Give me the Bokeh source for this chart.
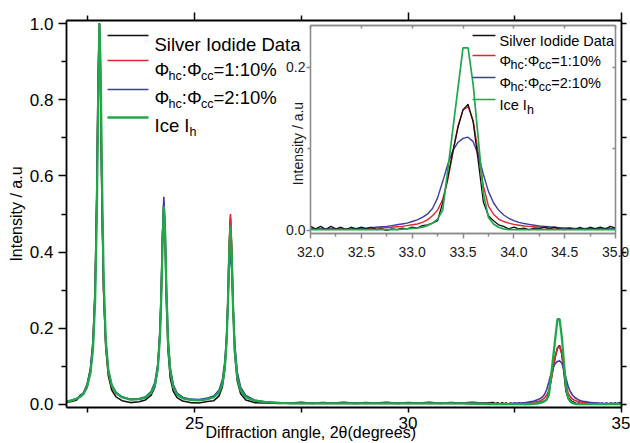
from bokeh.plotting import figure
from bokeh.models import Range1d, LinearAxis, FixedTicker, NumeralTickFormatter, Label, Arrow, Title
from bokeh.layouts import column
from bokeh.embed import file_html
from bokeh.resources import INLINE

FONT = "Liberation Sans"

# ---------------- data ----------------
two_theta = [
    22.00, 22.12, 22.24, 22.32, 22.40, 22.48, 22.56, 22.62, 22.67, 22.71, 22.74, 22.77,
    22.80, 22.83, 22.87, 22.92, 22.98, 23.06, 23.16, 23.30, 23.50, 23.70,
    23.85, 23.98, 24.07, 24.14, 24.19, 24.22, 24.25, 24.28, 24.31, 24.34, 24.38, 24.43,
    24.50, 24.59, 24.72, 24.90, 25.10, 25.30,
    25.45, 25.57, 25.65, 25.71, 25.75, 25.78, 25.81, 25.84, 25.87, 25.90, 25.94, 26.00,
    26.08, 26.20, 26.40, 26.65, 27.00,
    27.25, 27.50, 27.75, 28.00, 28.25, 28.50, 28.75, 29.00, 29.25, 29.50, 29.75, 30.00,
    30.25, 30.50, 30.75, 31.00, 31.25, 31.50, 31.75,
    32.00, 32.05, 32.10, 32.15, 32.20, 32.25, 32.30, 32.35, 32.40, 32.45,
    32.50, 32.55, 32.60, 32.65, 32.70, 32.75, 32.80, 32.85, 32.90, 32.95,
    33.00, 33.05, 33.10, 33.15, 33.20, 33.25, 33.30, 33.35, 33.40, 33.45,
    33.50, 33.55, 33.60, 33.65, 33.70, 33.75, 33.80, 33.85, 33.90, 33.95,
    34.00, 34.05, 34.10, 34.15, 34.20, 34.25, 34.30, 34.35, 34.40, 34.45,
    34.50, 34.55, 34.60, 34.65, 34.70, 34.75, 34.80, 34.85, 34.90, 34.95,
    35.00,
]

silver_iodide = [
    0.006, 0.008, 0.012, 0.024, 0.028, 0.045, 0.085, 0.15, 0.29, 0.54, 0.82, 1.00,
    0.83, 0.55, 0.30, 0.15, 0.075, 0.038, 0.020, 0.010, 0.005, 0.007,
    0.012, 0.024, 0.046, 0.095, 0.19, 0.30, 0.45, 0.53, 0.43, 0.27, 0.14, 0.070,
    0.035, 0.018, 0.009, 0.005, 0.004, 0.008,
    0.010, 0.022, 0.046, 0.095, 0.17, 0.27, 0.41, 0.49, 0.40, 0.26, 0.135, 0.062,
    0.028, 0.012, 0.005, 0.004, 0.003,
    0.004, 0.006, 0.003, 0.005, 0.004, 0.006, 0.003, 0.005, 0.004, 0.006, 0.003, 0.005,
    0.004, 0.006, 0.003, 0.005, 0.004, 0.006, 0.004,
    0.005, 0.002, 0.005, 0.001, 0.005, 0.002, 0.004, 0.001, 0.004, 0.002,
    0.004, 0.002, 0.004, 0.001, 0.002, 0.000, 0.002, 0.001, 0.003, 0.002,
    0.004, 0.003, 0.006, 0.007, 0.009, 0.012, 0.034, 0.065, 0.097, 0.126,
    0.148, 0.155, 0.133, 0.085, 0.035, 0.018, 0.012, 0.007, 0.005, 0.002,
    0.004, 0.002, 0.003, 0.001, 0.003, 0.002, 0.004, 0.002, 0.004, 0.002,
    0.001, 0.003, 0.001, 0.004, 0.001, 0.004, 0.002, 0.004, 0.002, 0.005,
    0.003,
]

phi_1_10 = [
    0.008, 0.011, 0.016, 0.021, 0.030, 0.050, 0.092, 0.165, 0.31, 0.57, 0.86, 1.00,
    0.80, 0.52, 0.29, 0.155, 0.085, 0.048, 0.030, 0.019, 0.013, 0.014,
    0.018, 0.030, 0.052, 0.100, 0.19, 0.29, 0.44, 0.53, 0.44, 0.29, 0.16, 0.088,
    0.046, 0.027, 0.017, 0.013, 0.011, 0.014,
    0.020, 0.032, 0.056, 0.104, 0.175, 0.275, 0.415, 0.50, 0.415, 0.273, 0.152, 0.075,
    0.038, 0.020, 0.010, 0.006, 0.004,
    0.003, 0.003, 0.003, 0.003, 0.003, 0.003, 0.003, 0.003, 0.003, 0.003, 0.003, 0.003,
    0.003, 0.003, 0.003, 0.003, 0.003, 0.003, 0.003,
    0.002, 0.002, 0.002, 0.002, 0.002, 0.002, 0.002, 0.002, 0.002, 0.002,
    0.002, 0.002, 0.0025, 0.003, 0.003, 0.0035, 0.004, 0.0045, 0.005, 0.006,
    0.007, 0.008, 0.010, 0.013, 0.018, 0.025, 0.038, 0.062, 0.095, 0.128,
    0.148, 0.152, 0.135, 0.095, 0.055, 0.030, 0.020, 0.014, 0.011, 0.009,
    0.0075, 0.0065, 0.0055, 0.005, 0.0045, 0.004, 0.0035, 0.003, 0.003, 0.0025,
    0.0025, 0.002, 0.002, 0.002, 0.002, 0.002, 0.002, 0.002, 0.002, 0.002,
    0.002,
]

phi_2_10 = [
    0.008, 0.011, 0.016, 0.022, 0.031, 0.052, 0.094, 0.165, 0.30, 0.55, 0.84, 1.00,
    0.82, 0.54, 0.30, 0.162, 0.090, 0.052, 0.032, 0.020, 0.014, 0.015,
    0.020, 0.034, 0.058, 0.108, 0.20, 0.30, 0.45, 0.545, 0.46, 0.31, 0.175, 0.097,
    0.052, 0.030, 0.019, 0.014, 0.013, 0.017,
    0.022, 0.037, 0.064, 0.114, 0.18, 0.26, 0.355, 0.40, 0.355, 0.26, 0.16, 0.085,
    0.045, 0.024, 0.012, 0.007, 0.004,
    0.0035, 0.0035, 0.0035, 0.0035, 0.0035, 0.0035, 0.0035, 0.0035, 0.0035, 0.0035,
    0.0035, 0.0035, 0.0035, 0.0035, 0.0035, 0.0035, 0.0035, 0.0035, 0.0035,
    0.002, 0.002, 0.002, 0.002, 0.002, 0.002, 0.002, 0.002, 0.002, 0.0025,
    0.0028, 0.003, 0.0035, 0.004, 0.0045, 0.005, 0.006, 0.007, 0.008, 0.009,
    0.011, 0.013, 0.016, 0.020, 0.027, 0.040, 0.060, 0.081, 0.098, 0.108,
    0.113, 0.1145, 0.109, 0.093, 0.069, 0.048, 0.034, 0.025, 0.019, 0.015,
    0.012, 0.010, 0.0085, 0.0075, 0.0065, 0.0055, 0.005, 0.0045, 0.004, 0.0035,
    0.003, 0.003, 0.0025, 0.0025, 0.0025, 0.0025, 0.0025, 0.0025, 0.0025, 0.0025,
    0.0025,
]

ice_ih = [
    0.008, 0.010, 0.015, 0.020, 0.028, 0.046, 0.083, 0.145, 0.27, 0.50, 0.78, 1.00,
    0.88, 0.60, 0.33, 0.17, 0.090, 0.050, 0.030, 0.019, 0.013, 0.014,
    0.018, 0.030, 0.050, 0.095, 0.18, 0.28, 0.42, 0.52, 0.45, 0.30, 0.16, 0.088,
    0.046, 0.026, 0.016, 0.012, 0.011, 0.014,
    0.019, 0.031, 0.053, 0.098, 0.165, 0.26, 0.39, 0.47, 0.39, 0.26, 0.143, 0.071,
    0.036, 0.019, 0.010, 0.006, 0.004,
    0.003, 0.003, 0.003, 0.003, 0.003, 0.003, 0.003, 0.003, 0.003, 0.003, 0.003, 0.003,
    0.003, 0.003, 0.003, 0.003, 0.003, 0.002, 0.002,
    0.001, 0.001, 0.001, 0.001, 0.001, 0.001, 0.001, 0.001, 0.001, 0.001,
    0.001, 0.001, 0.001, 0.001, 0.001, 0.001, 0.001, 0.001, 0.0015, 0.002,
    0.0025, 0.003, 0.004, 0.006, 0.009, 0.014, 0.025, 0.074, 0.124, 0.174,
    0.224, 0.224, 0.179, 0.113, 0.046, 0.016, 0.008, 0.004, 0.002, 0.001,
    0.001, 0.001, 0.001, 0.001, 0.001, 0.001, 0.001, 0.001, 0.001, 0.001,
    0.001, 0.001, 0.001, 0.001, 0.001, 0.001, 0.001, 0.001, 0.001, 0.001,
    0.001,
]

series_labels = ["Silver Iodide Data", "\u03a6hc:\u03a6cc=1:10%", "\u03a6hc:\u03a6cc=2:10%", "Ice Ih"]

# tick values
x_major = [25, 30, 35]
x_minor = [22.5, 27.5, 32.5]
y_major = [0.0, 0.2, 0.4, 0.6, 0.8, 1.0]
y_minor = [0.1, 0.3, 0.5, 0.7, 0.9]
inset_x_major = [32.0, 32.5, 33.0, 33.5, 34.0, 34.5, 35.0]
inset_x_minor = [32.25, 32.75, 33.25, 33.75, 34.25, 34.75]
inset_y_major = [0.0, 0.2]
inset_y_minor = [0.1]

x_title = "Diffraction angle, 2\u03b8(degrees)"
y_title = "Intensity / a.u"

# legend text pieces: (text, is_subscript)
legend_rows = [
    [("Silver Iodide Data", False)],
    [("\u03a6", False), ("hc", True), (":\u03a6", False), ("cc", True), ("=1:10%", False)],
    [("\u03a6", False), ("hc", True), (":\u03a6", False), ("cc", True), ("=2:10%", False)],
    [("Ice I", False), ("h", True)],
]

# ---------------- styling ----------------
COLORS = ["#111111", "#e3262d", "#3a3ea3", "#1fa84a"]
MAIN_W = [1.6, 1.6, 1.6, 2.3]
INSET_W = [1.3, 1.4, 1.4, 1.7]
ys_all = [silver_iodide, phi_1_10, phi_2_10, ice_ih]

ADV = {"\u03a6": 0.76, "h": 0.556, "c": 0.5, ":": 0.278, "=": 0.584, "1": 0.556,
       "2": 0.556, "0": 0.556, "%": 0.889, "I": 0.278, "e": 0.556, " ": 0.278}

W, H = 630, 443


def text_width(s, size):
    return sum(ADV.get(ch, 0.55) for ch in s) * size


def put_text(fig, x, y, s, size, align="left", baseline="alphabetic", angle=0.0, color="black"):
    fig.add_layout(Label(x=x, y=y, x_units="screen", y_units="screen", text=s,
                         text_font=FONT, text_font_size=f"{size}px", text_color=color,
                         text_baseline=baseline, text_align=align, angle=angle))


def legend_line(fig, x0, x1, y, color, width):
    fig.add_layout(Arrow(start=None, end=None, x_start=x0, y_start=y, x_end=x1, y_end=y,
                         start_units="screen", end_units="screen",
                         line_color=color, line_width=width))


def draw_legend(fig, frame_left, frame_bottom, lx0, lx1, tx, line_ys, base_ys,
                size, sub_size, sub_drop, widths):
    """all positions given in page pixels, converted to frame-relative screen units"""
    for i, row in enumerate(legend_rows):
        legend_line(fig, lx0 - frame_left, lx1 - frame_left, frame_bottom - line_ys[i],
                    COLORS[i], widths[i])
        x = tx
        for s, sub in row:
            sz = sub_size if sub else size
            y = base_ys[i] + (sub_drop if sub else 0)
            put_text(fig, x - frame_left, frame_bottom - y, s, sz)
            x += text_width(s, sz)


def hide_labels(ax):
    ax.major_label_text_color = None
    ax.major_label_text_font_size = "1px"
    ax.major_label_standoff = 0


def base_axis(ax, size, lw=1.8, color="black", label_color="black"):
    ax.axis_line_color = color
    ax.axis_line_width = lw
    ax.major_tick_line_color = color
    ax.minor_tick_line_color = color
    ax.major_tick_line_width = 1.5
    ax.minor_tick_line_width = 1.5
    ax.major_tick_in = 0
    ax.minor_tick_in = 0
    ax.major_label_text_font = FONT
    ax.major_label_text_font_size = f"{size}px"
    ax.major_label_text_color = label_color
    return ax


# ---------------- main figure ----------------
FL, FR, FT, FB = 66, 621, 20, 407      # frame edges, page pixels

p = figure(width=W, height=H, x_range=Range1d(22, 35), y_range=Range1d(-0.0079, 1.0079),
           output_backend="svg", toolbar_location=None,
           x_axis_location=None, y_axis_location=None, frame_align=False,
           min_border_left=FL, min_border_right=W - FR, min_border_top=FT,
           min_border_bottom=H - FB, outline_line_color=None,
           background_fill_color="white", border_fill_color="white")
p.xgrid.visible = False
p.ygrid.visible = False

left = base_axis(LinearAxis(ticker=FixedTicker(ticks=y_major, minor_ticks=y_minor),
                            formatter=NumeralTickFormatter(format="0.0")), 17)
left.major_tick_out = 8
left.minor_tick_out = 5
left.major_label_standoff = 5
left.axis_label = y_title
left.axis_label_text_font = FONT
left.axis_label_text_font_size = "16px"
left.axis_label_text_font_style = "normal"
left.axis_label_text_color = "black"
left.axis_label_standoff = 2
p.add_layout(left, "left")

bottom = base_axis(LinearAxis(ticker=FixedTicker(ticks=x_major, minor_ticks=x_minor),
                              formatter=NumeralTickFormatter(format="0")), 17, lw=2.2)
bottom.major_tick_out = 5
bottom.minor_tick_out = 5
bottom.major_label_standoff = 4
p.add_layout(bottom, "below")

p.add_layout(Title(text=x_title, align="left", offset=205 - FL, vertical_align="top",
                   standoff=-16, text_font=FONT, text_font_size="16px",
                   text_font_style="normal", text_color="black"), "below")

top = base_axis(LinearAxis(ticker=FixedTicker(ticks=x_major, minor_ticks=x_minor)), 17)
top.major_tick_out = 8
top.minor_tick_out = 5
hide_labels(top)
p.add_layout(top, "above")

right = base_axis(LinearAxis(ticker=FixedTicker(ticks=sorted(y_major + y_minor), minor_ticks=[])), 17)
right.major_tick_out = 5
hide_labels(right)
p.add_layout(right, "right")

for ys, c, w, lab in zip(ys_all, COLORS, MAIN_W, series_labels):
    p.line(two_theta, ys, line_color=c, line_width=w, name=lab)

draw_legend(p, FL, FB, 107, 148, 154,
            [35, 60, 89, 117], [43.5, 68.5, 97, 125],
            18.5, 12.5, 6.5, MAIN_W)

# inset's y-axis title: it lies in the main frame, left of the inset frame
put_text(p, 297 - FL, FB - 143, y_title, 14, align="center", baseline="middle",
         angle=1.5707963, color="#1a1a1a")

# ---------------- inset figure (same canvas, overlaid) ----------------
IFL, IFR, IFT, IFB = 310, 615, 25, 233
GRAY = "#8a8a8a"

inset = figure(width=W, height=H, x_range=Range1d(32, 35), y_range=Range1d(-0.0037, 0.2515),
               output_backend="svg", toolbar_location=None,
               x_axis_location=None, y_axis_location=None, frame_align=False,
               min_border_left=IFL, min_border_right=W - IFR, min_border_top=IFT,
               min_border_bottom=H - IFB,
               background_fill_color="white", border_fill_color=None,
               outline_line_color=GRAY, outline_line_width=1.3)
inset.xgrid.visible = False
inset.ygrid.visible = False

il = base_axis(LinearAxis(ticker=FixedTicker(ticks=inset_y_major, minor_ticks=inset_y_minor),
                          formatter=NumeralTickFormatter(format="0.0")), 14, lw=1.3,
               color=GRAY, label_color="#1a1a1a")
il.major_tick_out = 4
il.minor_tick_out = 3
il.major_label_standoff = 1
inset.add_layout(il, "left")

ib = base_axis(LinearAxis(ticker=FixedTicker(ticks=inset_x_major, minor_ticks=inset_x_minor),
                          formatter=NumeralTickFormatter(format="0.0")), 14, lw=1.3,
               color=GRAY, label_color="#1a1a1a")
ib.major_tick_out = 5
ib.minor_tick_out = 3
ib.major_label_standoff = 8
inset.add_layout(ib, "below")

it = base_axis(LinearAxis(ticker=FixedTicker(ticks=inset_x_major, minor_ticks=[])), 14, lw=1.3, color=GRAY)
it.major_tick_out = 0
it.major_tick_in = 3
hide_labels(it)
inset.add_layout(it, "above")

ir = base_axis(LinearAxis(ticker=FixedTicker(ticks=[0.1, 0.2], minor_ticks=[])), 14, lw=1.3, color=GRAY)
ir.major_tick_out = 0
ir.major_tick_in = 3
hide_labels(ir)
inset.add_layout(ir, "right")

for idx in (1, 2, 0, 3):
    inset.line(two_theta, ys_all[idx], line_color=COLORS[idx], line_width=INSET_W[idx],
               name=series_labels[idx])

draw_legend(inset, IFL, IFB, 472, 495, 499,
            [35, 55, 77, 99], [40, 60, 82, 104.5],
            14.5, 12.5, 4.5, INSET_W)

inset.styles = {"position": "absolute", "left": "0px", "top": "0px"}

root = column(p, inset)

open("out.html", "w").write(file_html(root, INLINE))
